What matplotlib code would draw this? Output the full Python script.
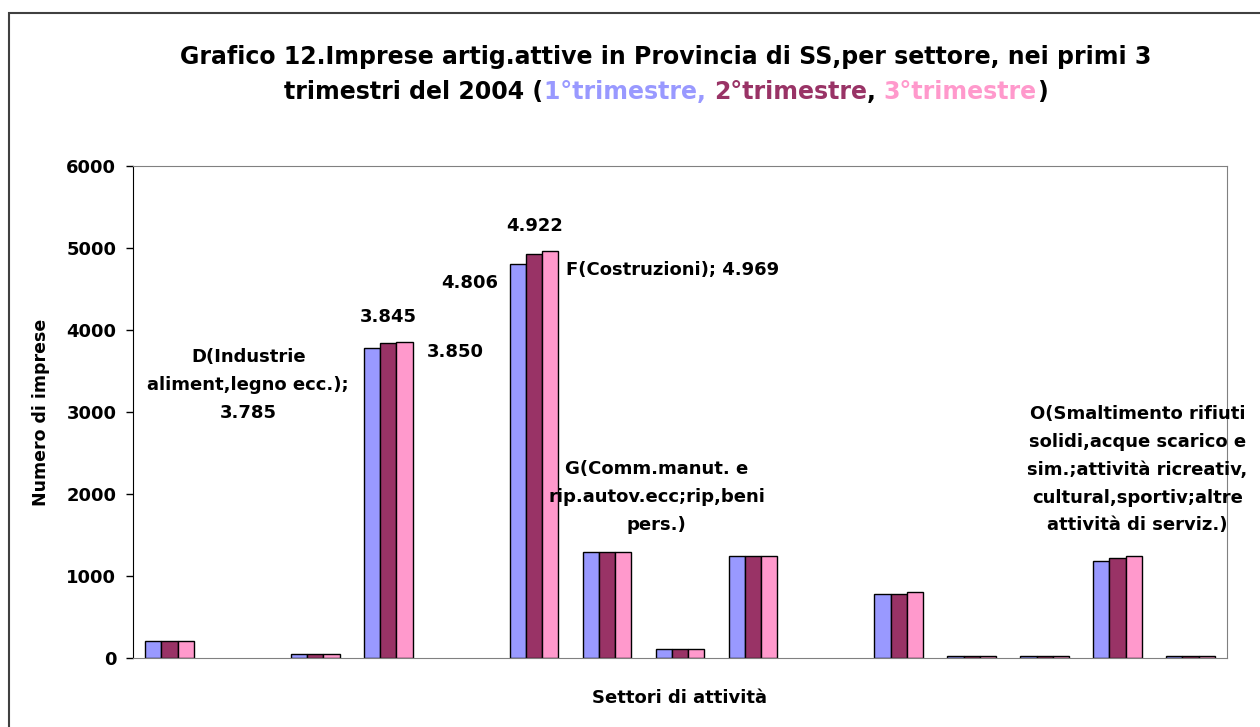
import numpy as np
import matplotlib.pyplot as plt
from matplotlib.patches import Rectangle

plt.rcParams['font.family'] = ['DejaVu Sans']
plt.rcParams['font.weight'] = 'bold'

# sezioni di attività (artigiani attivi, provincia di Sassari, 2004)
settori = ["A", "B", "C", "D", "E", "F", "G", "H", "I", "J", "K", "M", "N", "O", "X"]
trim1 = [212, 0, 45, 3785, 0, 4806, 1290, 115, 1240, 0, 777, 20, 20, 1188, 20]
trim2 = [212, 0, 45, 3845, 0, 4922, 1290, 115, 1240, 0, 777, 20, 20, 1216, 20]
trim3 = [212, 0, 45, 3850, 0, 4969, 1290, 115, 1240, 0, 801, 20, 20, 1240, 20]

col1, col2, col3 = "#9999FF", "#993366", "#FF99CC"


def ita(v):
    return f"{v:,}".replace(",", ".")


fig = plt.figure(figsize=(12.6, 7.27), dpi=100)
ax = fig.add_axes([133 / 1260, 1 - 658 / 727, 1094 / 1260, 492 / 727])

x = np.arange(len(settori))
w = 1 / 4.5
for off, vals, col in ((-w, trim1, col1), (0, trim2, col2), (w, trim3, col3)):
    vals = np.array(vals)
    # nessun bordo per le sezioni senza imprese
    ax.bar(x + off, vals, w, color=col, edgecolor="black",
           linewidth=np.where(vals > 0, 1.0, 0.0))

ax.set_xlim(-0.5, len(settori) - 0.5)
ax.set_ylim(0, 6000)
ax.set_yticks(range(0, 6001, 1000))
ax.set_xticks([])
ax.tick_params(axis="y", direction="out", length=5, width=1, labelsize=13, pad=7)
for s in ("top", "right", "bottom"):
    ax.spines[s].set_color("#808080")
ax.spines["left"].set_color("black")

ax.set_ylabel("Numero di imprese", fontsize=12.5, fontweight="bold", labelpad=12)
ax.set_xlabel("Settori di attività", fontsize=13, fontweight="bold", labelpad=22)

# etichette dati spostate come nel grafico originale
lab = dict(fontsize=13, fontweight="bold", ha="center", va="center", linespacing=1.7)
iD, iF, iG, iO = settori.index("D"), settori.index("F"), settori.index("G"), settori.index("O")
ax.text(iD - 1.92, 3330, "D(Industrie\naliment,legno ecc.);\n" + ita(trim1[iD]), **lab)
ax.text(iD, 4160, ita(trim2[iD]), **lab)
ax.text(iD + 0.92, 3730, ita(trim3[iD]), **lab)
ax.text(iF - 0.88, 4575, ita(trim1[iF]), **lab)
ax.text(iF, 5270, ita(trim2[iF]), **lab)
ax.text(iF + 0.44, 4735, "F(Costruzioni); " + ita(trim3[iF]),
        fontsize=13, fontweight="bold", ha="left", va="center")
ax.text(iG + 0.68, 1965, "G(Comm.manut. e\nrip.autov.ecc;rip,beni\npers.)", **lab)
ax.text(iO + 0.27, 2295, "O(Smaltimento rifiuti\nsolidi,acque scarico e\nsim.;attività ricreativ,\n"
        "cultural,sportiv;altre\nattività di serviz.)", clip_on=False, **lab)

# titolo su due righe, la seconda con le parole colorate
fig.text(666 / 1260, 1 - 57 / 727,
         "Grafico 12.Imprese artig.attive in Provincia di SS,per settore, nei primi 3",
         fontsize=17, fontweight="bold", ha="center", va="center")
pezzi = [("trimestri del 2004 (", "black"), ("1°trimestre, ", col1), ("2°trimestre", col2),
         (", ", "black"), ("3°trimestre", col3), (")", "black")]
testi = [fig.text(0, 1 - 92 / 727, t, color=c, fontsize=17, fontweight="bold",
                  ha="left", va="center") for t, c in pezzi]
fig.canvas.draw()
r = fig.canvas.get_renderer()
larg = [t.get_window_extent(r).width for t in testi]
xpos = 666 - sum(larg) / 2
for t, l in zip(testi, larg):
    t.set_x(xpos / 1260)
    xpos += l

# cornice esterna del grafico
fig.patches.append(Rectangle((9 / 1260, -0.1), 1.2, 1 - 13 / 727 + 0.1,
                             transform=fig.transFigure, fill=False,
                             edgecolor="#404040", linewidth=1.5))

fig.savefig("out.png", dpi=100)
